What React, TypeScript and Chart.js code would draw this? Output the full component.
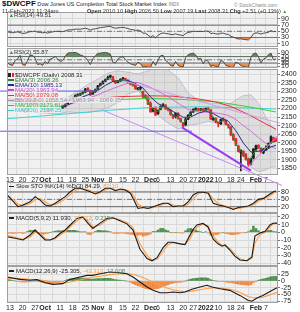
import React, { useEffect, useRef } from "react";
import { Chart, registerables } from "chart.js";
Chart.register(...registerables);

const FONT = "'Liberation Sans', Arial, sans-serif";
const FIRST_DAY = -1; // Sep 10, 2021 ; index 0 = Sep 13, 2021 (trading days)
const XMIN = -1.2;
const XMAX = 106.8;

// ---------- x axis labels (trading-day index) ----------
const xTickPos = [0, 5, 10, 14, 20, 25, 30, 35, 40, 45, 50, 56, 59, 64, 69, 73, 78, 83, 88, 92, 98, 102];
const xTickLabels = ["13", "20", "27", "Oct", "11", "18", "25", "Nov", "8", "15", "22", "Dec", "6", "13", "20", "27", "2022", "10", "18", "24", "Feb", "7"];
const xBold = ["Oct", "Nov", "Dec", "2022", "Feb"];

// ---------- price (daily, idx -1 .. 106) ----------
const open = [
  2262, 2258, 2250, 2235, 2248, 2250, 2222, 2195, 2192, 2215,
  2243, 2250, 2250, 2215, 2215, 2198, 2212, 2188, 2190, 2210,
  2222, 2214, 2208, 2212, 2228, 2252, 2255, 2265, 2276, 2280,
  2288, 2295, 2318, 2305, 2285, 2298, 2315, 2335, 2345, 2360,
  2372, 2386, 2385, 2360, 2352, 2362, 2372, 2375, 2366, 2352,
  2345, 2340, 2312, 2318, 2300, 2275, 2262, 2230, 2185, 2205,
  2170, 2195, 2213, 2220, 2200, 2190, 2162, 2152, 2172, 2140,
  2115, 2105, 2138, 2162, 2180, 2196, 2198, 2192, 2197, 2192,
  2202, 2192, 2135, 2142, 2115, 2110, 2138, 2132, 2105, 2092,
  2048, 2022, 1980, 1940, 1950, 1930, 1905, 1878, 1910, 1962,
  1985, 1968, 1942, 1960, 1975, 2000, 2030, 2010.1];
const high = [
  2268, 2262, 2255, 2256, 2258, 2254, 2225, 2205, 2218, 2250,
  2252, 2265, 2252, 2222, 2220, 2220, 2214, 2205, 2208, 2228,
  2226, 2218, 2214, 2226, 2254, 2262, 2266, 2280, 2286, 2290,
  2298, 2318, 2322, 2308, 2304, 2314, 2336, 2348, 2362, 2372,
  2390, 2396, 2388, 2364, 2364, 2374, 2382, 2378, 2368, 2356,
  2348, 2352, 2324, 2324, 2302, 2282, 2268, 2240, 2206, 2210,
  2192, 2216, 2228, 2222, 2204, 2194, 2165, 2175, 2176, 2144,
  2118, 2142, 2164, 2182, 2198, 2204, 2202, 2200, 2200, 2204,
  2208, 2194, 2150, 2146, 2118, 2138, 2146, 2134, 2108, 2094,
  2052, 2026, 1984, 1958, 1952, 1938, 1910, 1908, 1966, 1986,
  1988, 1970, 1966, 1982, 1998, 2040, 2032, 2026.5];
const low = [
  2250, 2244, 2228, 2230, 2244, 2234, 2182, 2180, 2186, 2212,
  2238, 2246, 2206, 2206, 2192, 2192, 2180, 2184, 2186, 2206,
  2210, 2202, 2200, 2208, 2226, 2248, 2250, 2262, 2272, 2276,
  2284, 2292, 2300, 2276, 2282, 2294, 2312, 2332, 2342, 2356,
  2368, 2380, 2358, 2345, 2350, 2358, 2368, 2362, 2348, 2338,
  2330, 2312, 2308, 2310, 2262, 2258, 2222, 2178, 2180, 2158,
  2165, 2192, 2208, 2195, 2186, 2160, 2140, 2145, 2138, 2120,
  2090, 2100, 2134, 2158, 2176, 2192, 2186, 2188, 2186, 2188,
  2190, 2136, 2130, 2115, 2092, 2106, 2126, 2104, 2085, 2040,
  2012, 1982, 1945, 1835, 1918, 1898, 1862, 1870, 1905, 1955,
  1966, 1940, 1935, 1955, 1970, 1996, 2002, 2007.19];
const close = [
  2255, 2250, 2232, 2250, 2252, 2238, 2190, 2188, 2210, 2245,
  2248, 2258, 2210, 2212, 2195, 2215, 2185, 2200, 2205, 2220,
  2215, 2205, 2210, 2222, 2250, 2258, 2262, 2275, 2282, 2285,
  2292, 2312, 2305, 2280, 2300, 2310, 2332, 2345, 2358, 2368,
  2382, 2388, 2362, 2350, 2360, 2370, 2376, 2368, 2352, 2342,
  2335, 2315, 2320, 2318, 2268, 2265, 2225, 2180, 2200, 2165,
  2188, 2212, 2222, 2198, 2192, 2165, 2150, 2170, 2142, 2125,
  2098, 2138, 2160, 2178, 2195, 2198, 2190, 2196, 2190, 2200,
  2196, 2138, 2142, 2120, 2112, 2135, 2130, 2108, 2098, 2045,
  2018, 1985, 1948, 1955, 1925, 1902, 1872, 1905, 1962, 1982,
  1972, 1945, 1962, 1970, 1995, 2035, 2005.8, 2008.31];

// ---------- overlays (sampled) ----------
const ema3X = [-1, 1, 3, 5, 7, 9, 11, 13, 15, 17, 19, 21, 23, 25, 27, 29, 31, 33, 35, 37, 39, 41, 43, 45, 47, 49, 51, 53, 55, 57, 59, 61, 63, 65, 67, 69, 71, 73, 75, 77, 79, 81, 83, 85, 87, 89, 91, 93, 95, 97, 99, 101, 103, 105, 106];
const ema3 = [2255, 2242, 2247, 2208, 2202, 2238, 2228, 2205, 2195, 2200, 2214, 2210, 2238, 2258, 2277, 2288, 2304, 2294, 2320, 2350, 2374, 2370, 2358, 2370, 2358, 2340, 2320, 2285, 2240, 2195, 2182, 2212, 2198, 2160, 2150, 2112, 2150, 2185, 2193, 2192, 2197, 2148, 2120, 2128, 2105, 2030, 1965, 1935, 1888, 1935, 1972, 1960, 1988, 2008, 2006.26];
const ema10X = [-1, 2, 5, 8, 11, 14, 17, 20, 23, 26, 29, 32, 35, 38, 41, 44, 47, 50, 53, 56, 59, 62, 65, 68, 69, 72, 75, 78, 81, 84, 87, 90, 93, 96, 99, 102, 104, 106];
const ema10 = [2245, 2243, 2228, 2225, 2228, 2220, 2210, 2210, 2220, 2242, 2268, 2285, 2305, 2335, 2358, 2362, 2364, 2345, 2320, 2268, 2228, 2210, 2182, 2158, 2148, 2150, 2172, 2185, 2170, 2145, 2125, 2070, 1998, 1945, 1950, 1955, 1975, 1985.13];
const bbX = [-1, 3, 7, 11, 15, 19, 23, 27, 31, 35, 39, 43, 47, 51, 55, 59, 63, 67, 71, 75, 79, 83, 87, 90, 93, 96, 99, 102, 104, 106];
const bbUpper = [2300, 2290, 2285, 2280, 2272, 2262, 2265, 2300, 2340, 2372, 2408, 2420, 2412, 2402, 2420, 2440, 2425, 2380, 2290, 2250, 2232, 2228, 2220, 2250, 2275, 2280, 2230, 2150, 2100, 2069.35];
const ma20 = [2240, 2238, 2232, 2228, 2222, 2215, 2222, 2238, 2258, 2280, 2305, 2328, 2348, 2352, 2330, 2300, 2270, 2230, 2195, 2180, 2178, 2172, 2160, 2135, 2100, 2068, 2030, 1995, 1978, 1963.94];
const bbLower = [2180, 2186, 2180, 2176, 2172, 2168, 2180, 2176, 2176, 2188, 2202, 2236, 2284, 2302, 2240, 2160, 2115, 2080, 2100, 2110, 2124, 2116, 2100, 2020, 1925, 1856, 1830, 1840, 1856, 1858.54];
const ma50X = [-1, 10, 20, 33, 45, 56, 65, 70, 75, 82, 88, 95, 100, 106];
const ma50 = [2250, 2245, 2240, 2258, 2270, 2274, 2272, 2264, 2256, 2238, 2212, 2165, 2125, 2079.08];
const ma100X = [-1, 20, 40, 56, 70, 83, 95, 106];
const ma100 = [2232, 2240, 2250, 2260, 2252, 2238, 2210, 2179.61];
const ma200X = [-1, 20, 40, 56, 75, 90, 106];
const ma200 = [2140, 2165, 2190, 2206, 2210, 2205, 2197.25];

// trendlines [x1, price1, x2, price2]
const resistanceLine = [-4, 2302, 34.6, 2302];
const supportLine = [-4, 2067, 72.5, 2067];
const longDownLine = [37, 2190, 108.4, 1750];
const lowsLine = [68.5, 2090, 96, 1836];
const highsLine = [45, 2362, 107.6, 2114];
const reboundLine = [95, 1862, 107.6, 2055];

// ---------- RSI ----------
const rsi14 = [
  48, 47, 45, 47, 48, 46, 43, 44, 46, 49,
  49, 51, 47, 47, 45, 47, 44, 47, 48, 50,
  50, 49, 49, 51, 54, 55, 55, 57, 57, 57,
  58, 60, 58, 54, 57, 58, 60, 62, 63, 64,
  66, 66, 62, 60, 61, 62, 63, 61, 59, 56,
  55, 53, 54, 51, 44, 44, 38, 31, 36, 29,
  37, 42, 45, 43, 42, 40, 39, 42, 39, 38,
  36, 43, 46, 48, 50, 50, 49, 50, 49, 51,
  50, 43, 44, 42, 41, 44, 44, 41, 40, 34,
  31, 28, 25, 26, 24, 23, 22, 30, 42, 45,
  44, 41, 44, 45, 47, 52, 49, 49.51];
const rsi2 = [
  30, 20, 15, 45, 55, 78, 20, 15, 45, 80,
  78, 60, 20, 25, 15, 40, 25, 55, 60, 70,
  55, 40, 45, 72, 92, 94, 94, 96, 90, 80,
  75, 65, 45, 20, 55, 75, 90, 92, 94, 95,
  93, 85, 35, 30, 55, 65, 70, 50, 35, 25,
  20, 15, 35, 25, 5, 8, 4, 3, 40, 15,
  50, 75, 78, 45, 35, 15, 10, 40, 15, 8,
  5, 65, 82, 88, 92, 80, 55, 60, 25, 50,
  40, 8, 15, 8, 6, 45, 40, 15, 10, 4,
  3, 35, 28, 15, 8, 5, 3, 65, 88, 92,
  70, 30, 55, 62, 82, 92, 50, 55.87];
const rsiLevels = [70, 50, 30];

// ---------- Slow stochastic (sampled) ----------
const stoX = [-1, 2, 3.2, 5.2, 8, 10, 12, 14, 16, 18, 20, 22, 24, 26, 28, 30, 32, 34, 36, 38, 40, 42, 44, 46, 48, 50, 51, 53, 55, 57, 59, 61, 63, 65, 67, 69, 71, 73, 75, 77, 79, 81, 83, 85, 87, 89, 91, 93, 95, 97, 99, 101, 103, 105, 106];
const stoK = [67, 34, 20, 27, 40, 61, 47, 27, 23, 34, 47, 61, 81, 95, 95, 88, 81, 72, 81, 95, 95, 85, 92, 88, 75, 34, 13, 17, 13, 20, 27, 34, 34, 20, 23, 23, 40, 68, 79, 79, 75, 34, 27, 23, 17, 9, 17, 20, 23, 34, 50, 54, 68, 81, 84.29];
const stoD = [62, 45, 30, 24, 32, 48, 53, 40, 28, 28, 38, 52, 68, 86, 94, 92, 85, 77, 76, 88, 95, 90, 88, 89, 82, 52, 30, 18, 15, 16, 23, 30, 34, 27, 22, 22, 30, 52, 73, 79, 77, 52, 32, 25, 20, 13, 13, 17, 21, 28, 42, 51, 60, 75, 82.1];
const stoLevels = [80, 50, 20];

// ---------- MACD(5,9,2) ----------
const macdFastX = [-1.2, 2, 5.2, 8, 10, 12, 14, 16, 18, 20, 22, 24, 26.7, 29, 31, 33, 35.9, 38.6, 41, 43.8, 46.6, 49, 51.8, 54.6, 56.6, 58.6, 61, 63, 65, 67.7, 69.7, 71.7, 73, 74.5, 76.9, 78.9, 81, 82.9, 84.5, 85.7, 87.6, 89.6, 91.6, 94.4, 96.4, 97.6, 99.6, 101.6, 103.6, 104.8, 106.4];
const macdFast = [-5.7, -7.8, -10, -3.5, 3, -3.5, -10, -10, -7, -1.3, 3, 9.5, 18, 20, 12, 5, 12, 18, 19, 15, 11, 3, -22, -34, -37, -33, -20, -13, -13, -15, -16, -4, 4, 9.5, 11.5, 7, -9, -15, -18, -16.5, -23, -31, -36, -37, -32, -5, -1, 1, 9.5, 11.7, 11.93];
const macdFastSignal = [-4, -6.5, -9, -6, 0, -1, -8, -10, -8.5, -3.5, 1, 7, 15, 19.5, 15, 7, 9.5, 16, 18.5, 16.5, 12.5, 6, -15, -30, -36, -35, -25, -16, -13.5, -14.5, -16, -9, 0, 6.5, 11, 8.5, -5, -12.5, -17, -17, -21, -28.5, -34.5, -37, -34, -14, -3, 0, 7, 10.5, 11.71];
const macdFastHist = [
  -1.5, -1, -1.5, -1.3, -1, -0.5, -1.5, -1, 1, 2.5,
  2.5, 3, -1, -2.5, -2.5, -2, -1.5, 0, 0.5, 1.5,
  2, 2, 2, 2, 2.5, 2.5, 2.5, 2.5, 1.5, 0.5,
  0.5, 0.5, -2.5, -3, -1, 1, 2.5, 2.5, 2, 2,
  1.5, 0.5, -1, -1.5, -1.5, -1, -1, -1.5, -2, -2.5,
  -3, -4, -4, -3, -5, -4, -3.5, -2, 1, 1,
  3, 5, 5, 3, 2, 0, -0.5, 0, -0.5, -1,
  -1, 2, 4.5, 5, 4, 3, 1.5, 0.5, 0, 0.5,
  -1, -4, -4, -3, -2.5, -1, 0, -1.5, -2, -3,
  -3, -2.5, -2, -1, -0.5, 0, 0.5, 3, 8, 5,
  2, 0, 1, 1.5, 2.5, 2.5, 1, 0.219];

// ---------- MACD(12,26,9) ----------
const macdSlowX = [-1.2, 4, 8, 10.7, 14, 17.1, 21, 23.9, 27.9, 30.7, 33, 35.9, 39.8, 43.8, 46.6, 49, 51.8, 54.6, 57, 59.8, 62.5, 64.9, 67.7, 69.7, 72.5, 75.7, 78.5, 80.5, 83.7, 87.6, 91.6, 94.8, 96.4, 98.4, 100.8, 103.6, 106.4];
const macdSlow = [15, 6, 2.6, 5, -6.4, -12.5, -10, 6, 15, 21, 21, 27, 34, 31, 27, 15, -4, -22.5, -35, -44, -44, -41, -44, -41, -31, -22.5, -16, -22.5, -29, -35, -54, -72, -76, -64, -54, -39, -25.305];
const macdSlowSignal = [10, 9, 6, 5, 1, -4, -8, -4, 4, 10, 14, 18, 24, 27.5, 28, 25, 17, 7, -5, -16, -26, -33, -38, -40, -38, -33, -28, -26, -26, -31, -42, -58, -62, -64, -61, -52, -42.313];
const macdSlowHist = [
  5, 4, 2, 0, -1.5, -3, -4, -4, -3.5, -3,
  -1.5, 0, -1.5, -3, -5, -7, -8, -8.5, -8.5, -6,
  -4, -2.5, -2, 2, 6, 8, 9.5, 10.5, 11, 11,
  11, 11, 9, 7, 7, 8, 9, 9, 9.5, 10,
  10, 9.5, 7, 5, 4, 3, 2, 0, -2, -5,
  -10, -14, -18, -20, -25, -28, -30, -31, -30, -29,
  -28, -24, -20, -17, -14, -10, -8, -6, -5, -4.5,
  -3, 0, 4, 7, 9, 10, 11, 12, 12, 12,
  10, 5, 2, 0, -2, -2, -2.5, -4, -5.5, -6,
  -8, -10, -12, -13, -14, -15, -16, -14, -6, -1,
  3, 6, 8, 10, 13, 16, 17, 17.008];

// ---------- axis ticks ----------
const rsiTicks = [90, 70, 50, 30, 10];
const priceTicks = [2400, 2350, 2300, 2250, 2200, 2150, 2100, 2050, 2000, 1950, 1900, 1850];
const stoTicks = [80, 50, 20];
const macdFastTicks = [20, 10, 0, -10, -20, -30, -40];
const macdSlowTicks = [25, 0, -25, -50, -75];

// ---------- helpers ----------
const daily = (ys: number[]) => ys.map((y, i) => ({ x: i + FIRST_DAY, y }));
const pairs = (xs: number[], ys: number[]) => xs.map((x, i) => ({ x, y: ys[i] }));
const seg = (a: number[]) => [{ x: a[0], y: a[1] }, { x: a[2], y: a[3] }];
const level = (v: number) => [{ x: XMIN, y: v }, { x: XMAX, y: v }];

const GRID = "#d9d9d9";
const BG = "#f0f0f0";
const UP = "#1e1e1e";
const DOWN = "#e3262c";
const GREENF = "rgba(70,140,70,0.9)";
const ORANGEF = "rgba(245,130,50,0.9)";
const SIG = "#ff9d45";

const lineDs = (data: any[], color: string, width = 1, extra: any = {}) => ({
  type: "line", data, borderColor: color, borderWidth: width, pointRadius: 0, tension: 0, fill: false, ...extra,
});

const levelDs = (levels: number[]) =>
  levels.map((v, i) =>
    lineDs(level(v), i === 1 ? "#777" : "#666", 1, { borderDash: i === 1 ? [5, 2, 1, 2] : [], order: 5 })
  );

const panelPlugin = {
  id: "panelBg",
  beforeDraw(chart: any) {
    const { ctx, chartArea: a } = chart;
    ctx.save();
    ctx.fillStyle = BG;
    ctx.fillRect(a.left, a.top, a.right - a.left, a.bottom - a.top);
    ctx.restore();
  },
  afterDraw(chart: any) {
    const { ctx, chartArea: a } = chart;
    ctx.save();
    ctx.strokeStyle = "#a0a0a0";
    ctx.lineWidth = 1;
    ctx.strokeRect(Math.round(a.left) + 0.5, Math.round(a.top) + 0.5, Math.round(a.right - a.left) - 1, Math.round(a.bottom - a.top) - 1);
    ctx.restore();
  },
};

function options(p: { ymin: number; ymax: number; yTicks: number[]; showX: boolean; padBottom?: number }) {
  return {
    responsive: false,
    animation: false,
    devicePixelRatio: 1,
    events: [],
    layout: { padding: { left: 7, right: 0, top: 0, bottom: p.padBottom || 0 }, autoPadding: false },
    plugins: { legend: { display: false }, tooltip: { enabled: false } },
    scales: {
      x: {
        type: "linear", min: XMIN, max: XMAX, offset: false,
        afterBuildTicks: (s: any) => { s.ticks = xTickPos.map((v) => ({ value: v })); },
        afterFit: (s: any) => { s.height = p.showX ? 8 : 0; s.paddingLeft = 0; s.paddingRight = 0; },
        grid: { color: GRID, drawTicks: false, lineWidth: 1 },
        border: { display: false },
        ticks: {
          display: p.showX, autoSkip: false, maxRotation: 0, padding: 1, color: "#222",
          font: (ctx: any) => ({ family: FONT, size: 7, weight: xBold.includes(xTickLabels[ctx.index]) ? "bold" : "normal" }),
          callback: (_v: any, i: number) => xTickLabels[i],
        },
      },
      y: {
        position: "right", min: p.ymin, max: p.ymax,
        afterBuildTicks: (s: any) => { s.ticks = p.yTicks.map((v) => ({ value: v })); },
        afterFit: (s: any) => { s.width = 22; s.paddingTop = 0; s.paddingBottom = 0; },
        grid: { color: GRID, tickLength: 2, tickColor: "#777" },
        border: { display: false },
        ticks: {
          autoSkip: false, padding: 1, color: "#222", font: { family: FONT, size: 7 },
          callback: (v: any) => String(v),
        },
      },
    },
  };
}

function rsiConfig(values: number[], ymin: number, ymax: number) {
  return {
    type: "line",
    data: {
      datasets: [
        lineDs(daily(values), "#4a4a4a", 1, { order: 0 }),
        lineDs(daily(values), "rgba(0,0,0,0)", 0, { order: 3, fill: { target: { value: 70 }, above: GREENF, below: "rgba(0,0,0,0)" } }),
        lineDs(daily(values), "rgba(0,0,0,0)", 0, { order: 3, fill: { target: { value: 30 }, above: "rgba(0,0,0,0)", below: ORANGEF } }),
        ...levelDs(rsiLevels),
      ],
    },
    options: options({ ymin, ymax, yTicks: rsiTicks, showX: false }),
    plugins: [panelPlugin],
  };
}

function mainConfig() {
  const bodyColors = close.map((c, i) => (c >= open[i] ? UP : DOWN));
  return {
    type: "line",
    data: {
      datasets: [
        lineDs(seg(resistanceLine), "#5d5df0", 1, { clip: false, order: 0 }),
        lineDs(seg(supportLine), "#5d5df0", 1, { clip: false, order: 0 }),
        lineDs(seg(longDownLine), "#c58cf5", 1, { clip: false, order: 0 }),
        lineDs(seg(lowsLine), "#9b3cf0", 2, { clip: false, order: 0 }),
        lineDs(seg(highsLine), "#cfa0f0", 1, { clip: false, order: 0 }),
        lineDs(seg(reboundLine), "#e070e0", 1, { clip: false, order: 0 }),
        lineDs(pairs(ema3X, ema3), "#2f8a2f", 1, { order: 2 }),
        lineDs(pairs(ema10X, ema10), "#2b2b8f", 1, { order: 3 }),
        lineDs(pairs(bbX, ma20), "#d64fd6", 0.8, { order: 4 }),
        lineDs(pairs(ma50X, ma50), "#e03434", 1, { order: 4 }),
        lineDs(pairs(ma100X, ma100), "#3fcc3f", 1, { order: 5 }),
        lineDs(pairs(ma200X, ma200), "#40d2d2", 1, { order: 5 }),
        {
          type: "bar", order: 6, grouped: false, barThickness: 2, minBarLength: 1,
          data: close.map((c, i) => ({ x: i + FIRST_DAY, y: [open[i], c] })),
          backgroundColor: bodyColors, borderWidth: 0,
        },
        {
          type: "bar", order: 7, grouped: false, barThickness: 1,
          data: close.map((_c, i) => ({ x: i + FIRST_DAY, y: [low[i], high[i]] })),
          backgroundColor: bodyColors, borderWidth: 0,
        },
        lineDs(pairs(bbX, bbUpper), "#bdb3cc", 0.8, { order: 9, fill: "+1", backgroundColor: "rgba(165,165,165,0.25)" }),
        lineDs(pairs(bbX, bbLower), "#bdb3cc", 0.8, { order: 9 }),
      ],
    },
    options: options({ ymin: 1810.8, ymax: 2431, yTicks: priceTicks, showX: true, padBottom: 10 }),
    plugins: [panelPlugin],
  };
}

function stoConfig() {
  return {
    type: "line",
    data: {
      datasets: [
        lineDs(pairs(stoX, stoK), "#1a1a1a", 1.1, { order: 0 }),
        lineDs(pairs(stoX, stoD), SIG, 1.1, { order: 1 }),
        ...levelDs(stoLevels),
      ],
    },
    options: options({ ymin: -5.7, ymax: 120.8, yTicks: stoTicks, showX: false }),
    plugins: [panelPlugin],
  };
}

function macdConfig(xs: number[], line: number[], signal: number[], hist: number[], ymin: number, ymax: number, ticks: number[], showX: boolean) {
  return {
    type: "line",
    data: {
      datasets: [
        lineDs(pairs(xs, line), "#1a1a1a", 1.1, { order: 0 }),
        lineDs(pairs(xs, signal), SIG, 1.1, { order: 1 }),
        {
          type: "bar", order: 3, grouped: false, barThickness: 2,
          data: daily(hist),
          backgroundColor: hist.map((v) => (v >= 0 ? "#4f8f4f" : "#f08a40")), borderWidth: 0,
        },
      ],
    },
    options: options({ ymin, ymax, yTicks: ticks, showX }),
    plugins: [panelPlugin],
  };
}

function ChartCanvas({ top, height, z, build }: { top: number; height: number; z: number; build: () => any }) {
  const ref = useRef<HTMLCanvasElement | null>(null);
  useEffect(() => {
    const chart = new Chart(ref.current as HTMLCanvasElement, build());
    return () => chart.destroy();
  }, []);
  return (
    <canvas
      ref={ref}
      width={300}
      height={height}
      style={{ position: "absolute", left: 0, top, width: 300, height, zIndex: z, display: "block" }}
    />
  );
}

const txt = (extra: any = {}) => ({
  position: "absolute" as const, whiteSpace: "nowrap" as const, fontFamily: FONT, pointerEvents: "none" as const, zIndex: 10, ...extra,
});

const legendRows = [
  { label: "EMA(3) 2006.26", color: "#2f7a2f" },
  { label: "EMA(10) 1985.13", color: "#2b2b8f" },
  { label: "MA(20) 1963.94", color: "#d040d0" },
  { label: "MA(50) 2079.08", color: "#e03434" },
  { label: "BB(20,2.0) 1858.54 - 1963.94 - 2069.35", color: "#9a90b0" },
  { label: "MA(100) 2179.61", color: "#33c033" },
  { label: "MA(200) 2197.25", color: "#30c8c8" },
];

export default function App() {
  const rowBg = "rgba(240,240,240,0.82)";
  return (
    <div style={{ position: "fixed", left: 0, top: 0, width: 300, height: 312, background: "#fff", overflow: "hidden" }}>
      {/* header */}
      <div style={txt({ left: 2, top: 0, fontSize: 5.6, lineHeight: "8px", color: "#222" })}>
        <span style={{ fontWeight: "bold", fontSize: 8, color: "#111" }}>$DWCPF</span> Dow Jones US Completion Total Stock Market Index{" "}
        <span style={{ fontSize: 4.5, color: "#777" }}>INDX</span>
      </div>
      <div style={txt({ left: 234, top: 1.5, fontSize: 5, color: "#888" })}>© StockCharts.com</div>
      <div style={txt({ left: 2, top: 7.5, fontSize: 5.8, color: "#333" })}>11-Feb-2022 11:34am</div>
      <div style={txt({ left: 87, top: 7.5, fontSize: 5.6, color: "#333" })}>
        <b>Open</b> 2010.10 <b>High</b> 2026.50 <b>Low</b> 2007.19 <b>Last</b> 2008.31 <b>Chg</b> +2.51 (+0.13%){" "}
        <span style={{ color: "#2f8a2f", fontSize: 4.5 }}>▲</span>
      </div>

      <ChartCanvas top={12} height={35} z={1} build={() => rsiConfig(rsi14, -0.6, 112.3)} />
      <ChartCanvas top={48} height={20} z={1} build={() => rsiConfig(rsi2, -1.25, 123.75)} />
      <ChartCanvas top={69} height={124} z={3} build={mainConfig} />
      <ChartCanvas top={182} height={31} z={1} build={stoConfig} />
      <ChartCanvas top={213} height={53} z={1} build={() => macdConfig(macdFastX, macdFast, macdFastSignal, macdFastHist, -43.8, 25.1, macdFastTicks, false)} />
      <ChartCanvas top={266} height={45} z={1} build={() => macdConfig(macdSlowX, macdSlow, macdSlowSignal, macdSlowHist, -82.5, 56.25, macdSlowTicks, true)} />

      {/* panel labels */}
      <div style={txt({ left: 9, top: 12, fontSize: 6, color: "#333" })}>
        <span style={{ color: "#3a8a3a", fontSize: 5 }}>▲</span>RSI(14) 49.51
      </div>
      <div style={txt({ left: 9, top: 49, fontSize: 6, color: "#333" })}>
        <span style={{ color: "#3a8a3a", fontSize: 5 }}>▲</span>RSI(2) 55.87
      </div>

      <div style={txt({ left: 8, top: 72.5, fontSize: 6, lineHeight: "5.1px", color: "#222" })}>
        <div>
          <span style={{ background: rowBg }}>
            <span style={{ display: "inline-block", width: 3, height: 4, background: "#222", marginRight: 1, verticalAlign: "middle" }} />
            <span style={{ display: "inline-block", width: 2, height: 4, background: DOWN, marginRight: 1, verticalAlign: "middle" }} />
            $DWCPF (Daily) 2008.31
          </span>
        </div>
        {legendRows.map((r) => (
          <div key={r.label}>
            <span style={{ background: rowBg, color: r.color }}>
              <span style={{ display: "inline-block", width: 6, height: 1.5, background: r.color, marginRight: 1, verticalAlign: "middle" }} />
              {r.label}
            </span>
          </div>
        ))}
      </div>

      <div style={txt({ left: 9, top: 183, fontSize: 6, color: "#222" })}>
        <span style={{ display: "inline-block", width: 5, height: 1.5, background: "#222", marginRight: 2, verticalAlign: "middle" }} />
        Slow STO %K(14) %D(3) 84.29, <span style={{ color: SIG }}>82.10</span>
      </div>
      <div style={txt({ left: 9, top: 214.5, fontSize: 6, color: "#222" })}>
        <span style={{ display: "inline-block", width: 5, height: 1.5, background: "#222", marginRight: 2, verticalAlign: "middle" }} />
        MACD(5,9,2) 11.930, <span style={{ color: SIG }}>11.712</span>, <span style={{ color: "#4f8f4f" }}>0.219</span>
      </div>
      <div style={txt({ left: 9, top: 267.5, fontSize: 6, color: "#222" })}>
        <span style={{ display: "inline-block", width: 5, height: 1.5, background: "#222", marginRight: 2, verticalAlign: "middle" }} />
        MACD(12,26,9) -25.305, <span style={{ color: SIG }}>-42.313</span>, <span style={{ color: "#4f8f4f" }}>17.008</span>
      </div>
    </div>
  );
}
